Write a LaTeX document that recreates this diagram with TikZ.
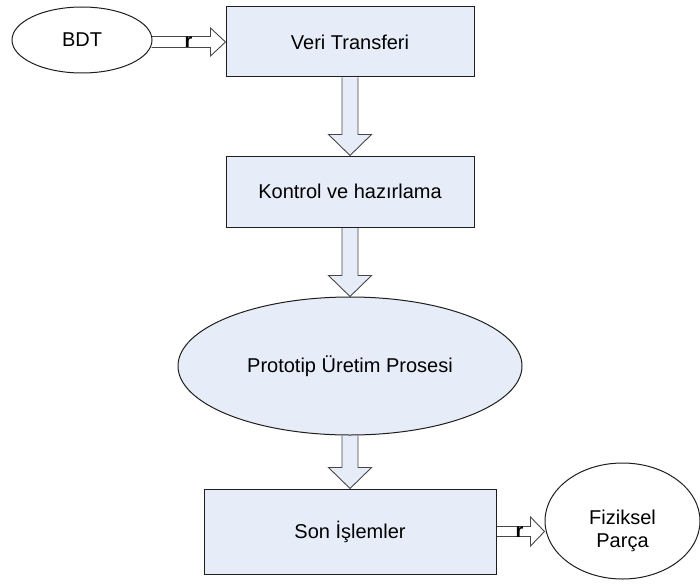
\documentclass[tikz,border=0pt]{standalone}
\usepackage{fontspec}
\setmainfont{Liberation Sans}
\usetikzlibrary{shapes.geometric,calc,backgrounds}
\definecolor{boxfill}{RGB}{231,237,248}
\definecolor{edge}{RGB}{30,30,30}
\definecolor{arrowedge}{RGB}{70,70,70}

% hollow block arrow pointing down, from the bottom of #1 to the top of #2
\newcommand\downblock[2]{%
  \path[blockarrow] let \p1=(#1.south), \p2=(#2.north) in
    (\x1-8pt,\y1) -- (\x1-8pt,\y2+21pt) -- (\x1-21.5pt,\y2+21pt) -- (\x1,\y2)
    -- (\x1+21.5pt,\y2+21pt) -- (\x1+8pt,\y2+21pt) -- (\x1+8pt,\y1);}

\begin{document}
\begin{tikzpicture}[x=1pt,y=-1pt,
  every node/.style={font=\fontsize{20}{23}\selectfont, inner sep=0pt},
  stepbox/.style={draw=edge, line width=1pt, fill=boxfill, minimum width=248pt},
  oval/.style={ellipse, draw=edge, line width=1pt},
  blockarrow/.style={draw=arrowedge, line width=0.9pt, fill=boxfill, line join=miter},
  sideblock/.style={draw=arrowedge, line width=0.9pt, fill=white, line join=miter},
  rmark/.style={anchor=base, font=\fontsize{20}{23}\selectfont\bfseries}]
\useasboundingbox (0,0) rectangle (700,583);

% process steps
\node[oval, fill=white, minimum width=140pt, minimum height=66pt] (bdt) at (82,40) {BDT};
\node[stepbox, minimum height=70pt] (veri) at (350,42) {Veri Transferi};
\node[stepbox, minimum height=71pt] (kontrol) at (350,191.5) {Kontrol ve hazırlama};
\node[oval, fill=boxfill, minimum width=344pt, minimum height=138pt] (proto) at (350,366) {Prototip Üretim Prosesi};
\node[stepbox, minimum width=292pt, minimum height=85pt] (son) at (350,531.5) {Son İşlemler};
\node[oval, fill=white, minimum width=155pt, minimum height=116pt] (fiz) at (622.5,521)
  {\smash{\raisebox{-15.5pt}{\begin{tabular}{@{}c@{}}Fiziksel\\Parça\end{tabular}}}};

% block arrows between the steps
\begin{scope}[on background layer]
  \path[sideblock] let \p1=(bdt.east), \p2=(veri.west) in
    (\x1-1pt,\y2+5.5pt) -- (\x2-15pt,\y2+5.5pt) -- (\x2-15pt,\y2+14pt) -- (\x2,\y2)
    -- (\x2-15pt,\y2-14pt) -- (\x2-15pt,\y2-5.5pt) -- (\x1-1pt,\y2-5.5pt);
  \downblock{veri}{kontrol}
  \downblock{kontrol}{proto}
  \downblock{proto}{son}
  \path[sideblock] let \p1=(son.east), \p2=(fiz.west) in
    (\x1,\y1+5pt) -- (\x2-14pt,\y1+5pt) -- (\x2-14pt,\y1+14.5pt) -- (\x2,\y1)
    -- (\x2-14pt,\y1-14.5pt) -- (\x2-14pt,\y1-5pt) -- (\x1,\y1-5pt);
\end{scope}

% small marks on the side arrows
\path let \p1=(bdt.east), \p2=(veri.west) in
  node[rmark] (r1) at (\x1+36pt,\y2-6pt) {r};
\path let \p1=(son.east), \p2=(fiz.west) in
  node[rmark] (r2) at (\x1+23pt,\y1-5.5pt) {r};
\end{tikzpicture}
\end{document}
